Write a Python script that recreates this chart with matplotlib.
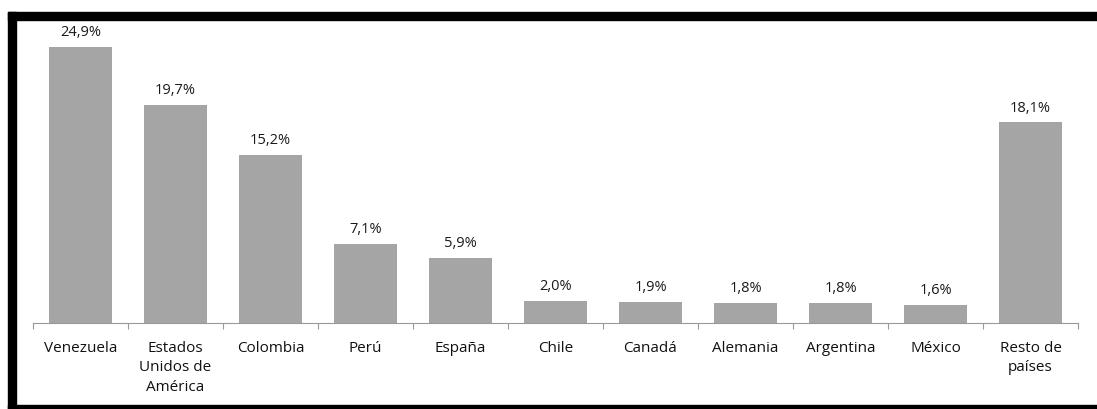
import numpy as np
import matplotlib.pyplot as plt
from matplotlib.patches import Rectangle

categories = ['Venezuela', 'Estados\nUnidos de\nAmérica', 'Colombia', 'Perú', 'España', 'Chile',
              'Canadá', 'Alemania', 'Argentina', 'México', 'Resto de\npaíses']
values = [24.9, 19.7, 15.2, 7.1, 5.9, 2.0, 1.9, 1.8, 1.8, 1.6, 18.1]
labels = ['24,9%', '19,7%', '15,2%', '7,1%', '5,9%', '2,0%', '1,9%', '1,8%', '1,8%', '1,6%', '18,1%']

plt.rcParams['font.family'] = ['Open Sans', 'DejaVu Sans']

W, H = 1097, 409
fig = plt.figure(figsize=(W / 100, H / 100), dpi=100)
ax = fig.add_axes([33 / W, 86 / H, (1078 - 33) / W, 303 / H])

x = np.arange(len(categories))
ax.bar(x, values, width=0.66, color='#A5A5A5')
for xi, v, t in zip(x, values, labels):
    ax.annotate(t, (xi, v), xytext=(0, 5), textcoords='offset points',
                ha='center', va='bottom', fontsize=10.5, color='#1a1a1a')

ax.set_xlim(-0.5, len(categories) - 0.5)
ax.set_ylim(0, 27.35)
ax.set_xticks(x)
ax.set_xticklabels(categories, fontsize=11, color='#111111', linespacing=1.4)
ax.set_xticks(np.arange(len(categories) + 1) - 0.5, minor=True)
ax.tick_params(axis='x', which='major', length=0, pad=13)
ax.tick_params(axis='x', which='minor', length=4, color='#999999', width=0.8)
ax.set_yticks([])
for s in ['top', 'right', 'left']:
    ax.spines[s].set_visible(False)
ax.spines['bottom'].set_color('#999999')
ax.spines['bottom'].set_linewidth(0.8)

# black frame around the image
fig.patches.append(Rectangle((8 / W, 1 - 20 / H), 1 - 8 / W, 8 / H, color='black', transform=fig.transFigure))
fig.patches.append(Rectangle((8 / W, 0), 8 / W, 1 - 12 / H, color='black', transform=fig.transFigure))
fig.patches.append(Rectangle((8 / W, 0), 1 - 8 / W, 4 / H, color='black', transform=fig.transFigure))

fig.savefig('out.png', dpi=100)
